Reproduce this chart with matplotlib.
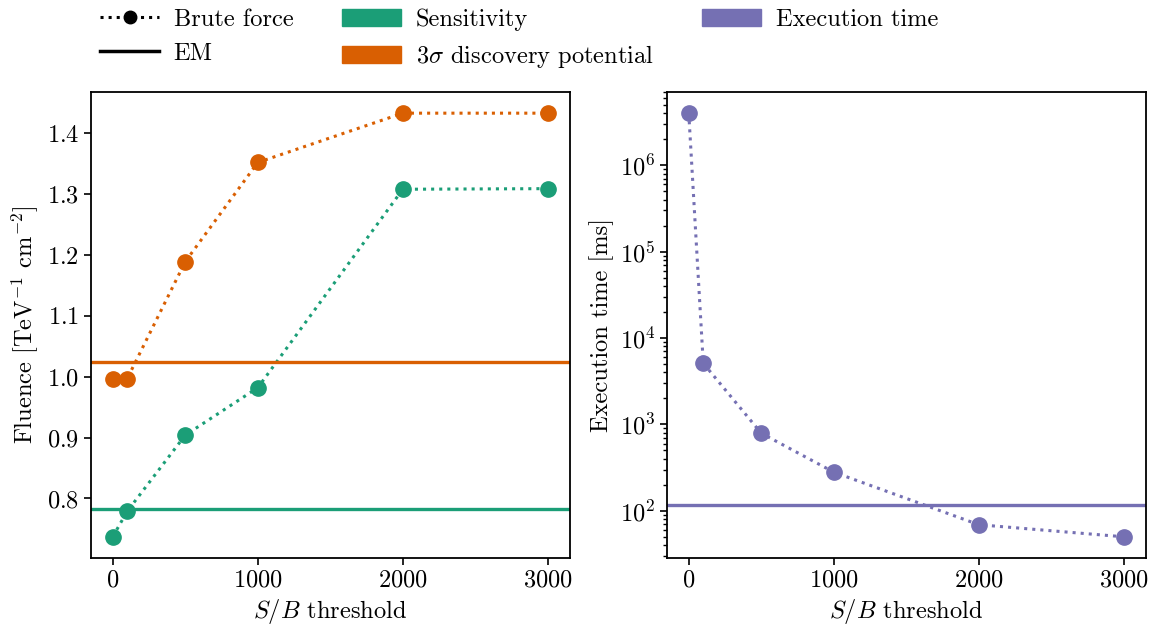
import matplotlib
matplotlib.use("Agg")
import matplotlib.pyplot as plt
from matplotlib.lines import Line2D
from matplotlib.patches import Patch

# data
thresholds = [0, 100, 500, 1000, 2000, 3000]
sens_brute = [0.737, 0.779, 0.904, 0.982, 1.308, 1.309]
disc_brute = [0.997, 0.997, 1.189, 1.352, 1.433, 1.433]
sens_em = 0.783
disc_em = 1.025
time_brute = [4.0e6, 5100, 790, 280, 69, 50]
time_em = 117

green = "#1b9e77"
orange = "#d95f02"
purple = "#7570b3"

plt.rcParams["font.family"] = "serif"
plt.rcParams["font.serif"] = ["cmr10"]
plt.rcParams["mathtext.fontset"] = "cm"
plt.rcParams["axes.formatter.use_mathtext"] = True
plt.rcParams["font.size"] = 17.6
plt.rcParams["axes.unicode_minus"] = False

fig = plt.figure(figsize=(11.59, 6.3), dpi=100)
ax1 = fig.add_axes([0.0785, 0.1143, 0.413, 0.7397])
ax2 = fig.add_axes([0.5755, 0.1143, 0.413, 0.7397])

# left panel: fluence
ax1.plot(thresholds, sens_brute, ls=":", marker="o", color=green, lw=2.2, ms=11)
ax1.plot(thresholds, disc_brute, ls=":", marker="o", color=orange, lw=2.2, ms=11)
ax1.axhline(sens_em, color=green, lw=2.4)
ax1.axhline(disc_em, color=orange, lw=2.4)
ax1.set_xlabel("$S/B$ threshold")
ax1.set_ylabel("Fluence [TeV$^{-1}$ cm$^{-2}$]")
ax1.set_xticks([0, 1000, 2000, 3000])

# right panel: execution time
ax2.plot(thresholds, time_brute, ls=":", marker="o", color=purple, lw=2.2, ms=11)
ax2.axhline(time_em, color=purple, lw=2.4)
ax2.set_yscale("log")
ax2.set_xlabel("$S/B$ threshold")
ax2.set_ylabel("Execution time [ms]")
ax2.set_xticks([0, 1000, 2000, 3000])

for ax in (ax1, ax2):
    for s in ax.spines.values():
        s.set_linewidth(1.3)
    ax.tick_params(width=1.2, length=5)
    ax.tick_params(which="minor", width=1.0, length=3)

handles = [
    Line2D([], [], color="black", ls=":", marker="o", lw=2.2, ms=9),
    Line2D([], [], color="black", lw=2.5),
    Patch(color=green),
    Patch(color=orange),
    Patch(color=purple),
]
labels = ["Brute force", "EM", "Sensitivity", "3$\\sigma$ discovery potential", "Execution time"]
fig.legend(handles, labels, ncol=3, loc="upper center", bbox_to_anchor=(0.448, 1.022),
           frameon=False, handlelength=2.4, handletextpad=0.6, columnspacing=2.0)

fig.savefig("out.png", dpi=100)
